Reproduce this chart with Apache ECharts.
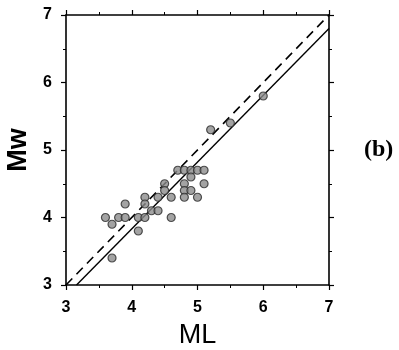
<!DOCTYPE html>
<html><head><meta charset="utf-8">
<script src="https://cdn.jsdelivr.net/npm/echarts@6/dist/echarts.min.js"></script>
<style>html,body{margin:0;padding:0;background:#fff}#c{width:399px;height:350px}</style>
</head><body><div id="c"></div>
<script>
var mlValues = [3.6,3.7,3.8,3.9,3.9,3.7,4.1,4.1,4.2,4.2,4.2,4.3,4.4,4.4,4.5,4.5,4.6,4.6,4.7,4.8,4.9,5.0,5.1,4.8,4.8,4.8,4.9,4.9,5.0,5.1,5.2,5.5,6.0];
var mwValues = [4.0,3.9,4.0,4.2,4.0,3.4,3.8,4.0,4.0,4.3,4.2,4.1,4.1,4.3,4.5,4.4,4.3,4.0,4.7,4.7,4.7,4.7,4.7,4.5,4.4,4.3,4.6,4.4,4.3,4.5,5.3,5.4,5.8];
var oneToOneX = [3, 7];
var oneToOneY = [3, 7];
var fitX = [3.16, 7];
var fitY = [3, 6.8];
var tickMin = 3, tickMax = 7, tickStep = 1;
var xTitle = 'ML', yTitle = 'Mw', panelLabel = '(b)';

function zip(a,b){return a.map(function(v,i){return [v,b[i]];});}
var chart = echarts.init(document.getElementById('c'), null, {renderer:'canvas'});
var lineCol = '#000';
function axisBase(showLabel){
  return {
    type:'value', min:tickMin, max:tickMax, interval:tickStep,
    axisLine:{show:true, onZero:false, lineStyle:{color:lineCol, width:1.6}},
    axisTick:{show:true, inside:false, length:5, lineStyle:{color:lineCol, width:1.2}},
    minorTick:{show:true, splitNumber:2, length:3, lineStyle:{color:lineCol, width:1}},
    splitLine:{show:false}, minorSplitLine:{show:false},
    axisLabel:{show:showLabel, color:'#000', fontFamily:'Liberation Sans', fontWeight:'bold', fontSize:16}
  };
}
var xb = axisBase(true);
xb.position='bottom'; xb.axisLabel.margin=15;
xb.name=xTitle; xb.nameLocation='middle'; xb.nameGap=37;
xb.nameTextStyle={fontFamily:'Liberation Sans', fontSize:27, color:'#000'};
var xt = axisBase(false); xt.position='top';
var yl = axisBase(true);
yl.position='left'; yl.axisLabel.margin=14;
yl.name=yTitle; yl.nameLocation='middle'; yl.nameGap=30;
yl.nameTextStyle={fontFamily:'Liberation Sans', fontSize:27, fontWeight:'bold', color:'#000'};
var yr = axisBase(false); yr.position='right';

chart.setOption({
  animation:false,
  backgroundColor:'#fff',
  grid:{left:66, right:70, top:15, bottom:65, containLabel:false, outerBoundsMode:'none'},
  xAxis:[xb, xt],
  yAxis:[yl, yr],
  graphic:[{type:'text', left:364, top:138, style:{text:panelLabel, fill:'#000', font:'bold 24px "Liberation Serif"'}}],
  series:[
    {type:'line', data:zip(oneToOneX, oneToOneY), symbol:'none', lineStyle:{color:'#000', width:1.6, type:[9,6]}, z:2},
    {type:'line', data:zip(fitX, fitY), symbol:'none', lineStyle:{color:'#000', width:1.4}, z:2},
    {type:'scatter', data:zip(mlValues, mwValues), symbol:'circle', symbolSize:8,
     itemStyle:{color:'#8c8c8c', borderColor:'#2a2a2a', borderWidth:1.2}, z:3}
  ]
});
</script></body></html>
